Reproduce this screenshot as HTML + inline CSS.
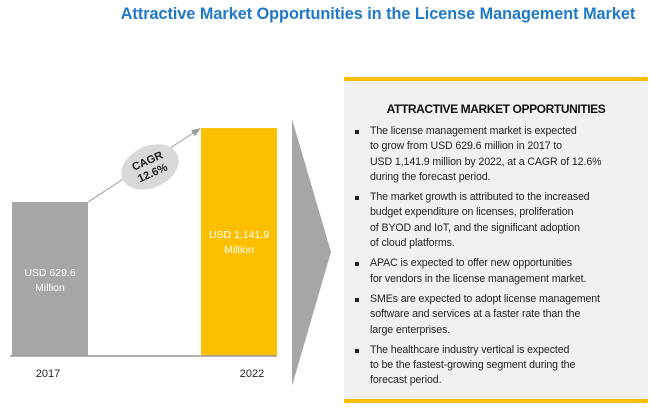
<!DOCTYPE html>
<html><head><meta charset="utf-8"><style>
body{margin:0;width:650px;height:417px;background:#fff;font-family:"Liberation Sans",sans-serif;overflow:hidden;position:relative}
#title{position:absolute;left:0;top:5px;width:756px;text-align:center;color:#1f78c8;font-weight:bold;font-size:16.2px}
#panel{position:absolute;left:344px;top:77px;width:304px;height:318px;background:#f1f1f1;border-top:4px solid #fcc000;border-bottom:4px solid #fcc000}
#panel h3{margin:21px 0 8px 0;text-align:center;font-size:12px;font-weight:bold;color:#111;letter-spacing:-0.4px}
#panel ul{margin:0;padding:0 0 0 26px;list-style:none}
#panel li{position:relative;font-size:10.6px;line-height:15.3px;color:#222;margin-bottom:5px;letter-spacing:-0.1px}
#panel li:before{content:"";position:absolute;left:-15px;top:6px;width:4px;height:4px;background:#222}
</style></head><body>
<div id="title">Attractive Market Opportunities in the License Management Market</div>
<svg id="chart" width="340" height="417" style="position:absolute;left:0;top:0"></svg>
<div id="panel">
<h3>ATTRACTIVE MARKET OPPORTUNITIES</h3>
<ul>
<li>The license management market is expected<br>to grow from USD 629.6 million in 2017 to<br>USD 1,141.9 million by 2022, at a CAGR of 12.6%<br>during the forecast period.</li>
<li>The market growth is attributed to the increased<br>budget expenditure on licenses, proliferation<br>of BYOD and IoT, and the significant adoption<br>of cloud platforms.</li>
<li>APAC is expected to offer new opportunities<br>for vendors in the license management market.</li>
<li>SMEs are expected to adopt license management<br>software and services at a faster rate than the<br>large enterprises.</li>
<li>The healthcare industry vertical is expected<br>to be the fastest-growing segment during the<br>forecast period.</li>
</ul></div>
<script>
const years=["2017","2022"];
const values=[629.6,1141.9];
const labels=[["USD 629.6","Million"],["USD 1,141.9","Million"]];
const cagr=["CAGR","12.6%"];
const NS="http://www.w3.org/2000/svg";
const svg=document.getElementById('chart');
const base=356;
function yScale(v){return base-(63+0.1444*v);}
const xs=[12,201],bw=76,colors=["#a6a6a6","#fcc000"];
function mk(t,a,p){const e=document.createElementNS(NS,t);for(const k in a)e.setAttribute(k,a[k]);(p||svg).appendChild(e);return e;}
const ar=mk('polygon',{points:"292,119 331,252 292,386",fill:"#a6a6a6"});


values.forEach((v,i)=>{
  const y=yScale(v);
  const r=mk('rect',{x:xs[i],y:y,width:bw,height:base-y,fill:colors[i]});
  
  
  labels[i].forEach((l,j)=>{
    const t=mk('text',{x:xs[i]+bw/2,y:(i==0?y+74:y+110)+j*15,fill:"#fff","font-size":"10.5","text-anchor":"middle"});
    t.textContent=l;
    
    
  });
  const yt=mk('text',{x:xs[i]+bw/2-(i==0?2:-13),y:377,fill:"#222","font-size":"11","text-anchor":"middle"});
  yt.textContent=years[i];
  
  
});
const ax=mk('line',{x1:10,y1:base,x2:277,y2:base,stroke:"#999","stroke-width":1.5});


const y0=yScale(values[0]),y1=yScale(values[1]);
const ln=mk('line',{x1:88,y1:y0,x2:196,y2:y1+3,stroke:"#999","stroke-width":1});


const ah=mk('polygon',{points:`201,${y1} 191,${y1+2} 195,${y1+8}`,fill:"#999"});


const g=mk('g',{transform:"translate(150,167) rotate(-24)"});


mk('ellipse',{cx:0,cy:0,rx:30,ry:21,fill:"#d9d9d9"},g);
cagr.forEach((c,j)=>{const t=mk('text',{x:0,y:-3+j*13,"font-size":"11","font-weight":"bold",fill:"#222","text-anchor":"middle"},g);t.textContent=c;});
</script>
</body></html>
